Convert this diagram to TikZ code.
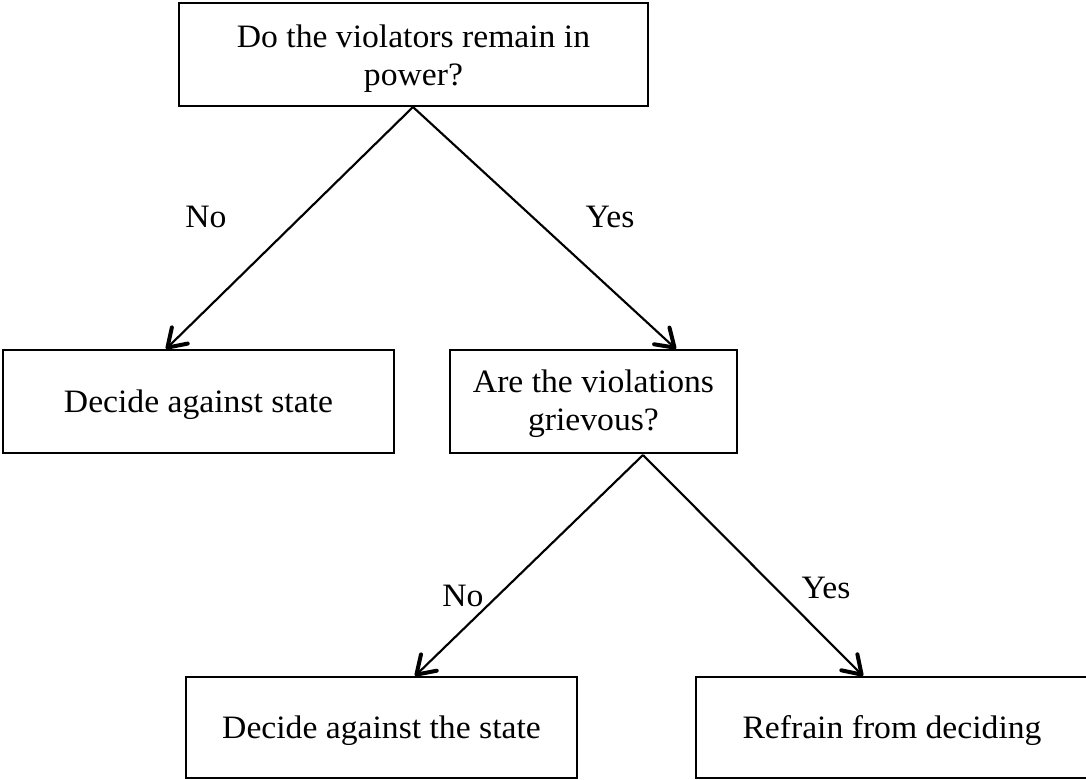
\documentclass[tikz,border=0pt]{standalone}
\usepackage{fontspec}
\setmainfont{Liberation Serif}[FakeStretch=1.03]
\usetikzlibrary{arrows.meta}
\newcommand{\shifted}[2]{\raisebox{#1}[0pt][0pt]{\begin{tabular}[t]{@{}c@{}}#2\end{tabular}}}
\tikzset{
  box/.style={draw=black, line width=1.7pt, align=center, inner sep=0pt,
    font=\fontsize{24.5pt}{28.5pt}\selectfont},
  lbl/.style={font=\fontsize{24.5pt}{28.5pt}\selectfont, inner sep=0pt, anchor=base},
  conn/.style={line width=1.6pt, -{Straight Barb[length=13pt, width=17pt, line width=3pt, round]}}
}
\begin{document}
\begin{tikzpicture}[x=0.75pt, y=-0.75pt]
\clip (0,0) rectangle (1086,779);
\fill[white] (0,0) rectangle (1086,779);
\node[box, line width=2.1pt, minimum width=469*0.75pt, minimum height=103*0.75pt] (top) at (413.5,54.5) {\shifted{5.6pt}{Do the violators remain in\\power?}};
\node[box, minimum width=391*0.75pt, minimum height=103*0.75pt] (left) at (198.5,401.5) {\shifted{-8.6pt}{Decide against state}};
\node[box, minimum width=287*0.75pt, minimum height=103*0.75pt] (griev) at (593.5,401.5) {\shifted{6.4pt}{Are the violations\\grievous?}};
\node[box, minimum width=391*0.75pt, minimum height=101*0.75pt] (bl) at (381.5,727.5) {\shifted{-7.9pt}{Decide against the state}};
\node[box, minimum width=392*0.75pt, minimum height=101*0.75pt] (br) at (892,727.5) {\shifted{-7.9pt}{Refrain from deciding}};
\coordinate (a0) at (413,107);
\coordinate (a1) at (166,349);
\coordinate (a2) at (676,349);
\coordinate (b0) at (643,455);
\coordinate (b1) at (415,676);
\coordinate (b2) at (863,676);
\draw[conn] (a0) -- (a1);
\draw[conn] (a0) -- (a2);
\draw[conn] (b0) -- (b1);
\draw[conn] (b0) -- (b2);
\node[lbl] (no1) at (206,227) {No};
\node[lbl] (yes1) at (610,227) {Yes};
\node[lbl] (no2) at (463,606) {No};
\node[lbl] (yes2) at (826,598) {Yes};
\end{tikzpicture}
\end{document}
